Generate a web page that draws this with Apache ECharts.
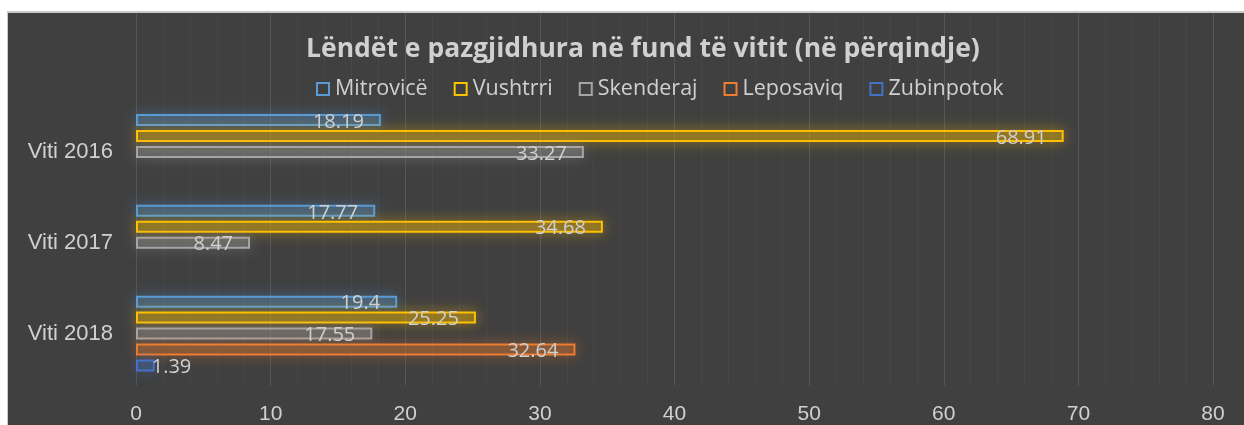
<!DOCTYPE html>
<html>
<head>
<meta charset="utf-8">
<script src="https://cdn.jsdelivr.net/npm/echarts@6/dist/echarts.min.js"></script>
<style>
  html, body { margin: 0; padding: 0; background: #ffffff; }
  #panel { position: absolute; left: 7px; top: 11px; width: 1240px; height: 420px; background: #404040; border-left: 1px solid #c8c8c8; border-top: 2px solid #c8c8c8; }
  #chart { position: absolute; left: 0; top: 0; width: 1244px; height: 425px; }
</style>
</head>
<body>
<div id="panel"></div>
<div id="chart"></div>
<script>
const titleText = 'Lëndët e pazgjidhura në fund të vitit (në përqindje)';
const categories = ['Viti 2016', 'Viti 2017', 'Viti 2018'];
const seriesNames = ['Mitrovicë', 'Vushtrri', 'Skenderaj', 'Leposaviq', 'Zubinpotok'];
const mitrovice = [18.19, 17.77, 19.4];
const vushtrri = [68.91, 34.68, 25.25];
const skenderaj = [33.27, 8.47, 17.55];
const leposaviq = [null, null, 32.64];
const zubinpotok = [null, null, 1.39];
const xTicks = [0, 10, 20, 30, 40, 50, 60, 70, 80];

const values = [mitrovice, vushtrri, skenderaj, leposaviq, zubinpotok];
const colors = ['#5B9BD5', '#FFC000', '#A5A5A5', '#ED7D31', '#4472C4'];
const fills = ['rgba(91,155,213,0.22)', 'rgba(255,192,0,0.27)', 'rgba(165,165,165,0.25)', 'rgba(237,125,49,0.25)', 'rgba(68,114,196,0.25)'];
const glows = ['rgba(91,155,213,0.75)', 'rgba(255,192,0,0.75)', 'rgba(165,165,165,0.65)', 'rgba(237,125,49,0.75)', 'rgba(68,114,196,0.75)'];
const FONT = '"Open Sans", "Liberation Sans", Arial, sans-serif';
const AXFONT = '"Liberation Sans", Arial, sans-serif';
const TXT = '#d0d0d0';

const series = seriesNames.map((name, i) => ({
  name: name,
  type: 'bar',
  xAxisIndex: 0,
  yAxisIndex: 0,
  barWidth: 12,
  barGap: '33%',
  data: values[i].map(v => {
    if (v === null) return null;
    if (v < 3) {
      return { value: v, label: { position: 'right', distance: -3 } };
    }
    return v;
  }),
  itemStyle: {
    color: fills[i],
    borderColor: colors[i],
    borderWidth: 2,
    shadowBlur: 14,
    shadowColor: glows[i]
  },
  label: {
    show: true,
    position: 'insideRight',
    distance: 17,
    offset: [0, 2],
    color: TXT,
    fontFamily: FONT,
    fontSize: 20
  },
  emphasis: { disabled: true }
}));

// background pattern grid (no data)
series.push({
  type: 'bar', xAxisIndex: 1, yAxisIndex: 1, data: [], silent: true
});

const chart = echarts.init(document.getElementById('chart'), null, { renderer: 'canvas' });
chart.setOption({
  animation: false,
  backgroundColor: 'transparent',
  title: {
    text: titleText,
    left: 301,
    top: 31,
    textStyle: { color: TXT, fontFamily: FONT, fontWeight: 'bold', fontSize: 26.5 }
  },
  legend: {
    data: seriesNames.map((n, i) => ({
      name: n,
      itemStyle: { color: 'rgba(64,64,64,1)', borderColor: colors[i], borderWidth: 2, shadowBlur: 0 }
    })),
    left: 311,
    top: 73,
    icon: 'rect',
    itemWidth: 12,
    itemHeight: 12,
    itemGap: 26,
    textStyle: { color: TXT, fontFamily: FONT, fontSize: 21.5, padding: [0, 0, 0, 1] }
  },
  grid: [
    { left: 136, right: 31, top: 106.5, bottom: 39.5, containLabel: false },
    { left: 136, right: 31, top: 13, bottom: 39.5, containLabel: false }
  ],
  xAxis: [
    {
      type: 'value', gridIndex: 0, min: xTicks[0], max: xTicks[xTicks.length - 1], interval: 10,
      axisLine: { show: false }, axisTick: { show: false },
      splitLine: { show: false },
      axisLabel: { color: TXT, fontFamily: AXFONT, fontSize: 21, margin: 25 }
    },
    {
      type: 'value', gridIndex: 1, min: xTicks[0], max: xTicks[xTicks.length - 1], interval: 10,
      axisLine: { show: false }, axisTick: { show: false }, axisLabel: { show: false },
      splitLine: { show: true, lineStyle: { color: '#565656', width: 1 } },
      minorTick: { show: false, splitNumber: 5 },
      minorSplitLine: { show: true, lineStyle: { color: '#474747', width: 1 } }
    }
  ],
  yAxis: [
    {
      type: 'category', gridIndex: 0, data: categories, inverse: true,
      axisLine: { show: false }, axisTick: { show: false },
      axisLabel: { color: TXT, fontFamily: AXFONT, fontSize: 22, margin: 23 }
    },
    {
      type: 'category', gridIndex: 1, data: categories, show: false
    }
  ],
  series: series
});
</script>
</body>
</html>
